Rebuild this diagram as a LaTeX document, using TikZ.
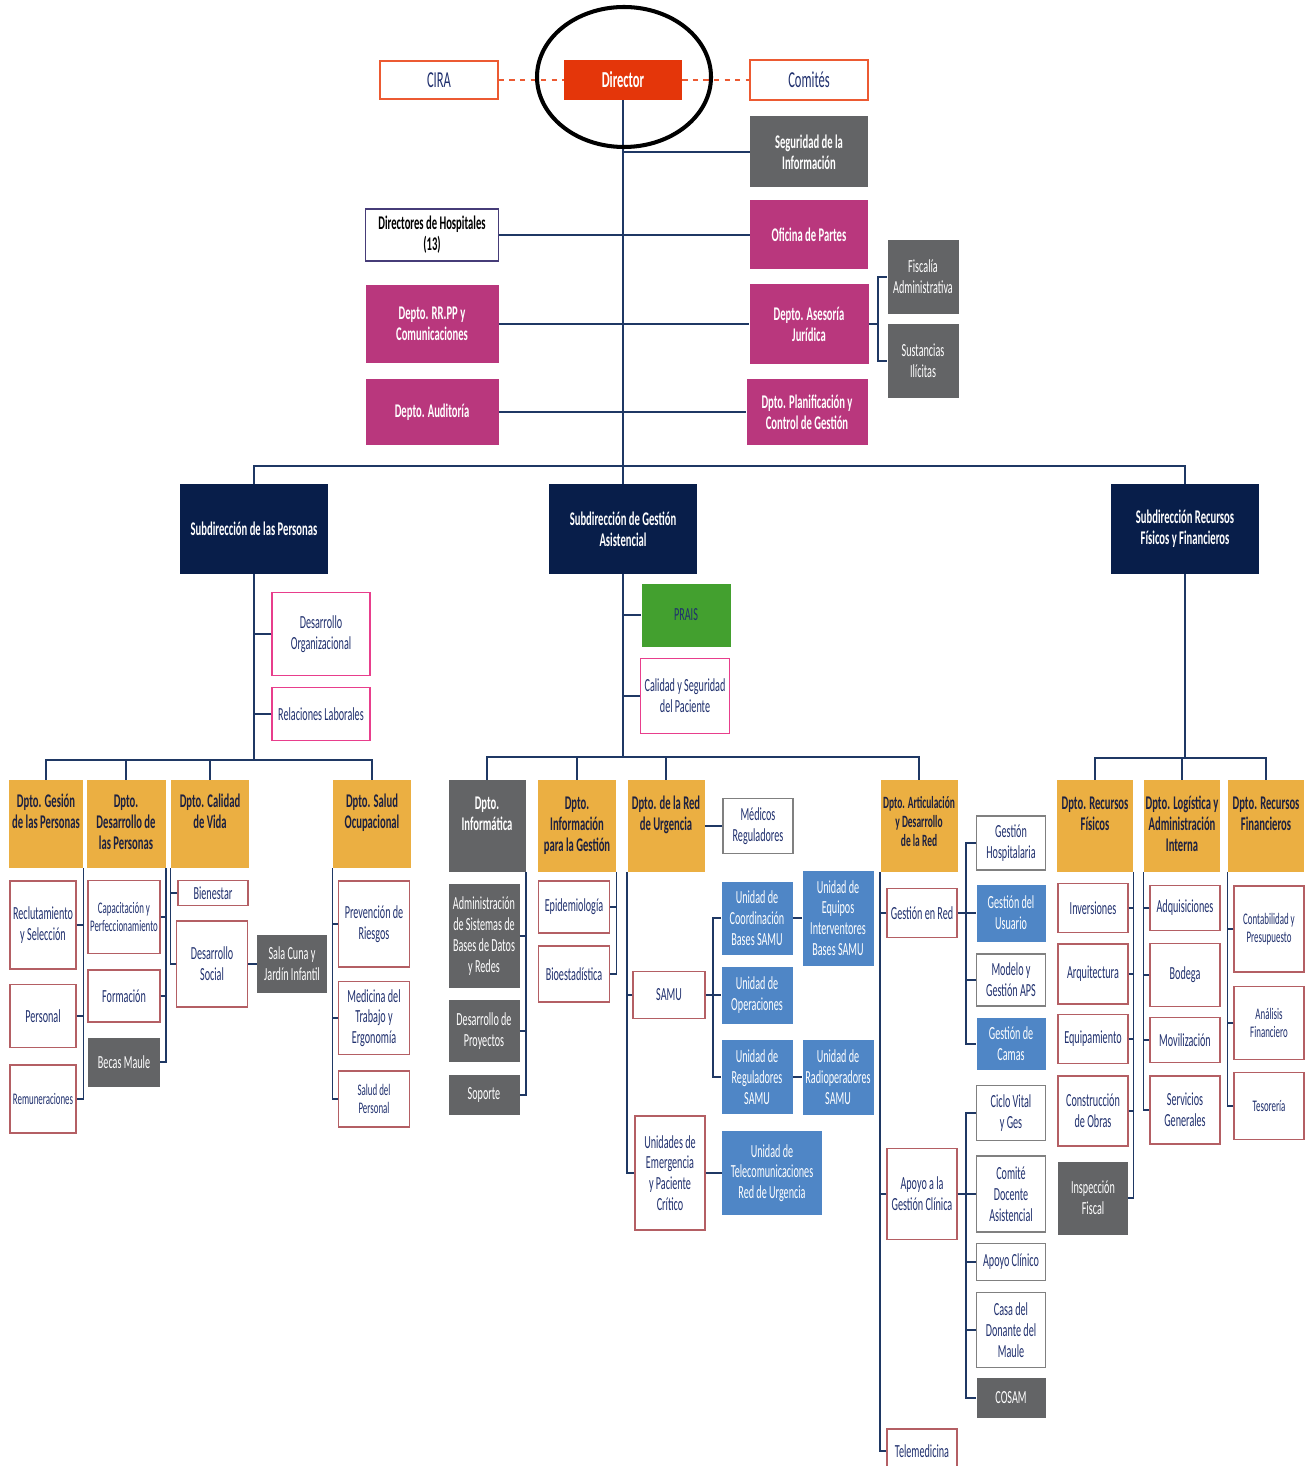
\documentclass[tikz,border=0pt]{standalone}
\usepackage{fontspec}
\setmainfont{Carlito}[FakeStretch=0.55]
\usepackage{tikz}

\definecolor{dirred}{RGB}{228,54,10}
\definecolor{orangeline}{RGB}{236,90,50}
\definecolor{txtblue}{RGB}{32,48,110}
\definecolor{magentabox}{RGB}{185,55,125}
\definecolor{greybox}{RGB}{99,100,102}
\definecolor{navybox}{RGB}{8,30,74}
\definecolor{goldbox}{RGB}{235,175,66}
\definecolor{deptxt}{RGB}{28,32,64}
\definecolor{unitred}{RGB}{180,95,100}
\definecolor{pinkline}{RGB}{232,62,140}
\definecolor{bluebox}{RGB}{79,134,198}
\definecolor{praisgreen}{RGB}{67,160,47}
\definecolor{linenavy}{RGB}{31,56,100}
\definecolor{hospline}{RGB}{70,60,120}

\newcommand{\orgfont}{\fontsize{10.5}{11.8}\selectfont}
\newcommand{\orgbold}{\fontsize{11}{12}\selectfont\bfseries}
\newcommand{\orgsmall}{\fontsize{9.2}{10.5}\selectfont}
\newcommand{\depttext}[1]{\parbox[c][1.25cm][t]{1.48cm}{\centering\strut #1}}

\tikzset{sz/.style 2 args={minimum width=#1*0.02cm, minimum height=#2*0.02cm}}
\tikzstyle{box} = [rectangle, align=center, inner xsep=0pt, inner ysep=1pt, font=\orgfont]
\tikzstyle{side} = [box, draw=orangeline, line width=1pt, fill=white, text=txtblue, font=\fontsize{13}{15}\selectfont]
\tikzstyle{head} = [box, fill=dirred, text=white, font=\fontsize{13}{15}\selectfont\bfseries]
\tikzstyle{hosp} = [box, draw=hospline, line width=1pt, fill=white, text=black, font=\orgbold]
\tikzstyle{staff} = [box, fill=magentabox, text=white, font=\orgbold]
\tikzstyle{grey} = [box, fill=greybox, text=white]
\tikzstyle{greybold} = [grey, font=\orgbold]
\tikzstyle{sub} = [box, fill=navybox, text=white, font=\orgbold]
\tikzstyle{dept} = [box, fill=goldbox, text=deptxt, font=\orgbold]
\tikzstyle{unit} = [box, draw=unitred, line width=0.8pt, fill=white, text=txtblue]
\tikzstyle{pinkunit} = [unit, draw=pinkline]
\tikzstyle{plainunit} = [unit, draw=gray]
\tikzstyle{blueunit} = [box, fill=bluebox, text=white]
\tikzstyle{greenunit} = [box, fill=praisgreen, text=txtblue]
\tikzstyle{line} = [draw=linenavy, line width=0.9pt]
\tikzstyle{dashline} = [draw=orangeline, line width=1pt, dashed]

\begin{document}
\begin{tikzpicture}[x=0.02cm, y=-0.02cm]

		\fill [white] (0,0) rectangle (1311,1466);
		\useasboundingbox (0,0) rectangle (1311,1466);

		% Draw the nodes
		\node (cira) [side, sz={118}{38}] at (439,80) {CIRA};
		\node (dir) [head, sz={118}{40}] at (623,80) {Director};
		\node (comites) [side, sz={118}{40}] at (809,80) {Comités};
		\node (seg) [greybold, sz={118}{71}] at (809,152) {Seguridad de la\\ Información};
		\node (dirhosp) [hosp, sz={133}{52}] at (432,235) {Directores de Hospitales\\ (13)};
		\node (ofi) [staff, sz={118}{69}] at (809,235) {Oficina de Partes};
		\node (rrpp) [staff, sz={133}{78}] at (432,324) {Depto. RR.PP y\\ Comunicaciones};
		\node (ases) [staff, sz={119}{80}] at (809,324) {Depto. Asesoría\\ Jurídica};
		\node (fisc) [grey, sz={71}{74}] at (923,277) {Fiscalía\\ Administrativa};
		\node (sust) [grey, sz={71}{74}] at (923,361) {Sustancias\\ Ilícitas};
		\node (aud) [staff, sz={133}{66}] at (432,412) {Depto. Auditoría};
		\node (plan) [staff, sz={121}{66}] at (807,412) {Dpto. Planificación y\\ Control de Gestión};

		\node (subper) [sub, sz={148}{90}] at (254,529) {Subdirección de las Personas};
		\node (subgest) [sub, sz={148}{90}] at (623,529) {Subdirección de Gestión\\ Asistencial};
		\node (subrec) [sub, sz={148}{90}] at (1185,529) {Subdirección Recursos\\ Físicos y Financieros};

		\node (desorg) [pinkunit, sz={98}{83}] at (321,634) {Desarrollo\\ Organizacional};
		\node (rellab) [pinkunit, sz={98}{53}] at (321,714) {Relaciones Laborales};
		\node (dgp) [dept, sz={74}{88}] at (46,824) {\depttext{Dpto. Gesión\\ de las Personas}};
		\node (ddp) [dept, sz={79}{88}] at (126,824) {\depttext{Dpto.\\ Desarrollo de\\ las Personas}};
		\node (dcv) [dept, sz={78}{88}] at (210,824) {\depttext{Dpto. Calidad\\ de Vida}};
		\node (dso) [dept, sz={78}{88}] at (372,824) {\depttext{Dpto. Salud\\ Ocupacional}};
		\node (recl) [unit, sz={66}{88}] at (43,925) {Reclutamiento\\ y Selección};
		\node (pers) [unit, sz={66}{63}] at (43,1016) {Personal};
		\node (rem) [unit, sz={66}{68}, font=\orgsmall] at (43,1099) {Remuneraciones};
		\node (capac) [unit, sz={72}{73}, font=\orgsmall] at (124,917) {Capacitación y\\ Perfeccionamiento};
		\node (form) [unit, sz={72}{52}] at (124,996) {Formación};
		\node (becas) [grey, sz={72}{49}] at (124,1062) {Becas Maule};
		\node (bien) [unit, sz={70}{25}] at (213,893) {Bienestar};
		\node (dsoc) [unit, sz={71}{86}] at (212,964) {Desarrollo\\ Social};
		\node (sala) [grey, sz={70}{58}] at (292,964) {Sala Cuna y\\ Jardín Infantil};
		\node (prev) [unit, sz={71}{86}] at (374,924) {Prevención de\\ Riesgos};
		\node (med) [unit, sz={71}{73}] at (374,1018) {Medicina del\\ Trabajo y\\ Ergonomía};
		\node (salud) [unit, sz={71}{56}, font=\orgsmall] at (374,1099) {Salud del\\ Personal};

		\node (prais) [greenunit, sz={89}{63}] at (686,615) {PRAIS};
		\node (calseg) [pinkunit, sz={89}{75}] at (685,696) {Calidad y Seguridad\\ del Paciente};
		\node (dinf) [greybold, sz={77}{92}] at (487,826) {\depttext{Dpto.\\ Informática}};
		\node (dig) [dept, sz={78}{92}] at (577,826) {\depttext{Dpto.\\ Información\\ para la Gestión}};
		\node (dru) [dept, sz={77}{92}] at (666,826) {\depttext{Dpto. de la Red\\ de Urgencia}};
		\node (medreg) [plainunit, sz={70}{55}] at (758,826) {Médicos\\ Reguladores};
		\node (dart) [dept, sz={77}{92}, font=\fontsize{9.8}{11}\selectfont\bfseries] at (919,826) {\depttext{Dpto. Articulación\\ y Desarrollo\\ de la Red}};
		\node (admsis) [grey, sz={71}{104}] at (484,936) {Administración\\ de Sistemas de\\ Bases de Datos\\ y Redes};
		\node (despro) [grey, sz={71}{62}] at (484,1031) {Desarrollo de\\ Proyectos};
		\node (soporte) [grey, sz={71}{40}] at (484,1095) {Soporte};
		\node (epid) [unit, sz={71}{52}] at (574,907) {Epidemiología};
		\node (bioest) [unit, sz={71}{56}] at (574,974) {Bioestadística};
		\node (samu) [unit, sz={72}{47}] at (669,995) {SAMU};
		\node (uemerg) [unit, sz={70}{114}] at (670,1173) {Unidades de\\ Emergencia\\ y Paciente\\ Crítico};
		\node (ucoord) [blueunit, sz={71}{73}] at (757,918) {Unidad de\\ Coordinación\\ Bases SAMU};
		\node (uop) [blueunit, sz={71}{57}] at (757,995) {Unidad de\\ Operaciones};
		\node (ureg) [blueunit, sz={71}{74}] at (757,1077) {Unidad de\\ Reguladores\\ SAMU};
		\node (uequip) [blueunit, sz={71}{95}] at (838,918) {Unidad de\\ Equipos\\ Interventores\\ Bases SAMU};
		\node (uradio) [blueunit, sz={71}{75}] at (838,1077) {Unidad de\\ Radioperadores\\ SAMU};
		\node (utele) [blueunit, sz={100}{84}] at (772,1173) {Unidad de\\ Telecomunicaciones\\ Red de Urgencia};

		\node (gred) [unit, sz={70}{49}] at (922,913) {Gestión en Red};
		\node (apoyo) [unit, sz={70}{91}] at (922,1194) {Apoyo a la\\ Gestión Clínica};
		\node (telemed) [unit, sz={70}{44}] at (922,1451) {Telemedicina};
		\node (ghosp) [plainunit, sz={69}{54}] at (1011,843) {Gestión\\ Hospitalaria};
		\node (gusu) [blueunit, sz={69}{57}] at (1011,913) {Gestión del\\ Usuario};
		\node (mapsa) [plainunit, sz={69}{52}] at (1011,980) {Modelo y\\ Gestión APS};
		\node (gcamas) [blueunit, sz={69}{52}] at (1011,1044) {Gestión de\\ Camas};
		\node (cvital) [plainunit, sz={69}{55}] at (1011,1113) {Ciclo Vital\\ y Ges};
		\node (comite) [plainunit, sz={69}{76}] at (1011,1194) {Comité\\ Docente\\ Asistencial};
		\node (apclin) [plainunit, sz={69}{37}] at (1011,1262) {Apoyo Clínico};
		\node (casa) [plainunit, sz={69}{75}] at (1011,1330) {Casa del\\ Donante del\\ Maule};
		\node (cosam) [grey, sz={69}{40}] at (1011,1398) {COSAM};

		\node (drf) [dept, sz={76}{92}] at (1095,826) {\depttext{Dpto. Recursos\\ Físicos}};
		\node (dlog) [dept, sz={76}{92}] at (1182,826) {\depttext{Dpto. Logística y\\ Administración\\ Interna}};
		\node (drfin) [dept, sz={76}{92}] at (1266,826) {\depttext{Dpto. Recursos\\ Financieros}};
		\node (inv) [unit, sz={70}{49}] at (1093,908) {Inversiones};
		\node (arq) [unit, sz={70}{60}] at (1093,974) {Arquitectura};
		\node (equip) [unit, sz={70}{49}] at (1093,1039) {Equipamiento};
		\node (constr) [unit, sz={70}{70}] at (1093,1111) {Construcción\\ de Obras};
		\node (inspec) [grey, sz={70}{73}] at (1093,1198) {Inspección\\ Fiscal};
		\node (adq) [unit, sz={70}{45}] at (1185,908) {Adquisiciones};
		\node (bodega) [unit, sz={70}{63}] at (1185,975) {Bodega};
		\node (movil) [unit, sz={70}{45}] at (1185,1040) {Movilización};
		\node (servgen) [unit, sz={70}{68}] at (1185,1110) {Servicios\\ Generales};
		\node (contab) [unit, sz={70}{86}, font=\orgsmall] at (1269,929) {Contabilidad y\\ Presupuesto};
		\node (analisis) [unit, sz={70}{73}, font=\orgsmall] at (1269,1023) {Análisis\\ Financiero};
		\node (tesor) [unit, sz={70}{67}, font=\orgsmall] at (1269,1106) {Tesorería};

		%Draw the lines
		\coordinate (bus1) at (623,466);
		\coordinate (jurbr) at (878,324);
		\draw [dashline] (cira) -- (dir);
		\draw [dashline] (dir) -- (comites);
		\draw [line] (dir.south) -- (bus1);
		\draw [line] (seg.west) -- (seg.west -| dir.south);
		\draw [line] (dirhosp) -- (ofi);
		\draw [line] (rrpp) -- (ases);
		\draw [line] (aud) -- (plan);
		\draw [line] (ases.east) -- (jurbr);
		\draw [line] (fisc.west) -| (jurbr) |- (sust.west);
		\draw [line] (subper.north) |- (bus1) -| (subrec.north);
		\draw [line] (bus1) -- (subgest.north);

		\coordinate (bus2) at (254,760);
		\draw [line] (subper.south) -- (bus2);
		\draw [line] (desorg.west) -- (desorg.west -| bus2);
		\draw [line] (rellab.west) -- (rellab.west -| bus2);
		\draw [line] (dgp.north) |- (bus2) -| (dso.north);
		\draw [line] (ddp.north) -- (ddp.north |- bus2);
		\draw [line] (dcv.north) -- (dcv.north |- bus2);
		\draw [line] (dgp.south east) |- (rem.east);
		\draw [line] (recl.east) -- (recl.east -| dgp.south east);
		\draw [line] (pers.east) -- (pers.east -| dgp.south east);
		\draw [line] (ddp.south east) |- (becas.east);
		\draw [line] (capac.east) -- (capac.east -| ddp.south east);
		\draw [line] (form.east) -- (form.east -| ddp.south east);
		\draw [line] (dcv.south west) |- (dsoc.west);
		\draw [line] (bien.west) -- (bien.west -| dcv.south west);
		\draw [line] (dsoc) -- (sala);
		\draw [line] (dso.south west) |- (salud.west);
		\draw [line] (prev.west) -- (prev.west -| dso.south west);
		\draw [line] (med.west) -- (med.west -| dso.south west);

		\coordinate (bus3) at (623,757);
		\coordinate (samubr) at (713,995);
		\draw [line] (subgest.south) -- (bus3);
		\draw [line] (prais.west) -- (prais.west -| bus3);
		\draw [line] (calseg.west) -- (calseg.west -| bus3);
		\draw [line] (dinf.north) |- (bus3) -| (dart.north);
		\draw [line] (dig.north) -- (dig.north |- bus3);
		\draw [line] (dru.north) -- (dru.north |- bus3);
		\draw [line] (dinf.south east) |- (soporte.east);
		\draw [line] (admsis.east) -- (admsis.east -| dinf.south east);
		\draw [line] (despro.east) -- (despro.east -| dinf.south east);
		\draw [line] (dig.south east) |- (bioest.east);
		\draw [line] (epid.east) -- (epid.east -| dig.south east);
		\draw [line] (dru.south west) |- (uemerg.west);
		\draw [line] (samu.west) -- (samu.west -| dru.south west);
		\draw [line] (dru) -- (medreg);
		\draw [line] (samu.east) -- (samubr);
		\draw [line] (ucoord.west) -| (samubr) |- (ureg.west);
		\draw [line] (samubr) -- (uop.west);
		\draw [line] (ucoord) -- (uequip);
		\draw [line] (ureg) -- (uradio);
		\draw [line] (uemerg) -- (utele);

		\coordinate (redbr) at (966,913);
		\coordinate (apbr) at (966,1194);
		\draw [line] (dart.south west) |- (telemed.west);
		\draw [line] (gred.west) -- (gred.west -| dart.south west);
		\draw [line] (apoyo.west) -- (apoyo.west -| dart.south west);
		\draw [line] (gred) -- (gusu);
		\draw [line] (ghosp.west) -| (redbr) |- (gcamas.west);
		\draw [line] (mapsa.west) -- (mapsa.west -| redbr);
		\draw [line] (apoyo) -- (comite);
		\draw [line] (cvital.west) -| (apbr) |- (cosam.west);
		\draw [line] (apclin.west) -- (apclin.west -| apbr);
		\draw [line] (casa.west) -- (casa.west -| apbr);

		\coordinate (bus4) at (1185,758);
		\draw [line] (subrec.south) -- (bus4);
		\draw [line] (drf.north) |- (bus4) -| (drfin.north);
		\draw [line] (dlog.north) -- (dlog.north |- bus4);
		\draw [line] (drf.south east) |- (inspec.east);
		\draw [line] (inv.east) -- (inv.east -| drf.south east);
		\draw [line] (arq.east) -- (arq.east -| drf.south east);
		\draw [line] (equip.east) -- (equip.east -| drf.south east);
		\draw [line] (constr.east) -- (constr.east -| drf.south east);
		\draw [line] (dlog.south west) |- (servgen.west);
		\draw [line] (adq.west) -- (adq.west -| dlog.south west);
		\draw [line] (bodega.west) -- (bodega.west -| dlog.south west);
		\draw [line] (movil.west) -- (movil.west -| dlog.south west);
		\draw [line] (drfin.south west) |- (tesor.west);
		\draw [line] (contab.west) -- (contab.west -| drfin.south west);
		\draw [line] (analisis.west) -- (analisis.west -| drfin.south west);

		% ring round the director
		\draw [line width=2.3pt] (624,77) ellipse [x radius=87, y radius=70];

	\end{tikzpicture}
\end{document}
